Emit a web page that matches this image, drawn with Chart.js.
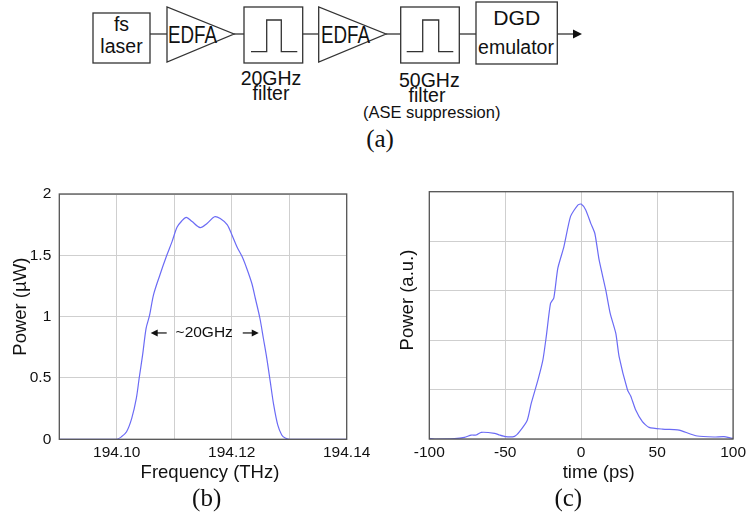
<!DOCTYPE html>
<html>
<head>
<meta charset="utf-8">
<script src="https://cdn.jsdelivr.net/npm/chart.js@4.4.1/dist/chart.umd.min.js"></script>
<style>
  html, body { margin: 0; padding: 0; background: #fff; }
  #wrap { position: relative; width: 750px; height: 519px; overflow: hidden; }
  #wrap svg, #wrap canvas { position: absolute; left: 0; top: 0; }
  svg text { font-family: "Liberation Sans", Arial, sans-serif; fill: #111; }
</style>
</head>
<body>
<div id="wrap">
  <!-- (a) experimental setup -->
  <svg width="750" height="170" viewBox="0 0 750 170">
    <g stroke="#333" stroke-width="1.3" fill="none">
      <rect x="93" y="13" width="57" height="50"/>
      <line x1="150" y1="34" x2="167" y2="34"/>
      <polygon points="167,7 167,62 234,34"/>
      <line x1="234" y1="34" x2="244" y2="34"/>
      <rect x="244" y="7" width="58.7" height="56"/>
      <polyline points="251,51.7 266.7,51.7 266.7,20 281.3,20 281.3,51.7 297.3,51.7"/>
      <line x1="302.7" y1="34" x2="318.7" y2="34"/>
      <polygon points="318.7,7 318.7,62 386,34"/>
      <line x1="386" y1="34" x2="400.7" y2="34"/>
      <rect x="400.7" y="7" width="58.6" height="56"/>
      <polyline points="406.7,51.7 422.7,51.7 422.7,20 438.7,20 438.7,51.7 453.3,51.7"/>
      <line x1="459.3" y1="34" x2="476" y2="34"/>
      <rect x="476" y="2" width="81.3" height="62"/>
      <line x1="557.3" y1="34" x2="574" y2="34"/>
    </g>
    <polygon points="573,29.5 582,34 573,38.5" fill="#111"/>
    <g text-anchor="middle">
      <text x="121.5" y="31" font-size="19.5">fs</text>
      <text x="121.5" y="53" font-size="19.5">laser</text>
      <text x="192.5" y="42.5" font-size="23" textLength="49" lengthAdjust="spacingAndGlyphs">EDFA</text>
      <text x="271" y="85" font-size="19.5">20GHz</text>
      <text x="271" y="99.5" font-size="19.5">filter</text>
      <text x="345.5" y="42.5" font-size="23" textLength="49" lengthAdjust="spacingAndGlyphs">EDFA</text>
      <text x="429.3" y="87.3" font-size="19.5">50GHz</text>
      <text x="427" y="101.7" font-size="19.5">filter</text>
      <text x="431.7" y="118.3" font-size="16.5">(ASE suppression)</text>
      <text x="516.7" y="25" font-size="20" textLength="47" lengthAdjust="spacingAndGlyphs">DGD</text>
      <text x="516" y="54" font-size="19.5">emulator</text>
      <text x="380" y="146.5" font-size="25" style="font-family:'Liberation Serif','Times New Roman',serif">(a)</text>
    </g>
  </svg>
  <canvas id="specChart" width="750" height="519"></canvas>
  <canvas id="pulseChart" width="750" height="519"></canvas>
</div>
<script>
// (b) optical spectrum after the 20 GHz filter
const freqTHz = [194.09, 194.1000, 194.1008, 194.1017, 194.1026, 194.1034, 194.1039, 194.1045, 194.1051,
  194.1057, 194.1064, 194.1075, 194.1087, 194.1096, 194.1105, 194.1113, 194.1121, 194.1131, 194.1145,
  194.1157, 194.1170, 194.1180, 194.1192, 194.1200, 194.1209, 194.1218, 194.1226, 194.1235, 194.1241,
  194.1249, 194.1255, 194.1261, 194.1267, 194.1273, 194.1280, 194.1287, 194.1293, 194.1300, 194.14];
const powerUW = [0, 0, 0.02, 0.062, 0.171, 0.334, 0.5, 0.69, 0.905,
  1.01, 1.18, 1.34, 1.50, 1.61, 1.73, 1.78, 1.81, 1.775, 1.726,
  1.76, 1.815, 1.80, 1.75, 1.67, 1.57, 1.49, 1.395, 1.27, 1.15,
  0.987, 0.824, 0.66, 0.47, 0.28, 0.117, 0.035, 0.01, 0, 0];
const freqTickLabels = ['194.10', '194.12', '194.14'];
const powerTickLabels = ['0', '0.5', '1', '1.5', '2'];

// (c) pulse intensity versus time
const timePs = [-100, -96.5, -83.4, -76.8, -72.4, -69.1, -65.8, -57, -53.8, -49.8, -43.9, -40.6,
  -35.5, -32.9, -28.5, -25.2, -23, -20.2, -18, -15.4, -11.4, -7, -2.2, 0, 3.0, 6.3, 9, 11.8,
  16.2, 19.1, 22.8, 25, 30.5, 32.6, 35.9, 40.3, 44.7, 53.5, 61.2, 64.5, 76.5, 87.5, 94, 99.5, 100];
const powerAU = [0.014, 0, 0.007, 0.034, 0.08, 0.08, 0.135, 0.115, 0.08, 0.047, 0.054, 0.15,
  0.38, 0.72, 1.19, 1.6, 2.07, 2.74, 2.855, 3.45, 3.885, 4.5, 4.73, 4.75, 4.63, 4.36, 4.155, 3.62,
  3.01, 2.54, 2.135, 1.66, 0.99, 0.87, 0.585, 0.35, 0.235, 0.2, 0.19, 0.18, 0.06, 0.04, 0.047, 0.014, 0.02];
const timeTicks = [-100, -50, 0, 50, 100];

// annotation for the filter bandwidth
const bwLabel = '~20GHz';
const bwLeftTip = 194.1059, bwRightTip = 194.1247, bwLevel = 0.867;

const LINE = '#6b6bf5';
const GRID = '#cfcfcf';
const FRAME = '#555';
const SANS = '"Liberation Sans", Arial, sans-serif';
const SERIF = '"Liberation Serif", "Times New Roman", serif';

Chart.defaults.font.family = SANS;
Chart.defaults.color = '#111';

function toPoints(xs, ys) { return xs.map((x, i) => ({ x: x, y: ys[i] })); }

// full box around the plotting area plus free text
function framePlugin(texts, extra) {
  return {
    id: 'frameText',
    afterDraw(chart) {
      const { ctx, chartArea: a } = chart;
      ctx.save();
      ctx.strokeStyle = FRAME;
      ctx.lineWidth = 1.3;
      ctx.strokeRect(a.left, a.top, a.right - a.left, a.bottom - a.top);
      ctx.fillStyle = '#111';
      texts.forEach(t => {
        ctx.save();
        ctx.font = t.font;
        ctx.textAlign = 'center';
        ctx.textBaseline = t.baseline || 'middle';
        ctx.translate(t.x, t.y);
        if (t.rot) ctx.rotate(t.rot);
        ctx.fillText(t.text, 0, 0);
        ctx.restore();
      });
      if (extra) extra(chart);
      ctx.restore();
    }
  };
}

function arrow(ctx, x0, x1, y) {
  const dir = Math.sign(x1 - x0);
  ctx.beginPath();
  ctx.moveTo(x0, y);
  ctx.lineTo(x1 - dir * 6, y);
  ctx.stroke();
  ctx.beginPath();
  ctx.moveTo(x1, y);
  ctx.lineTo(x1 - dir * 7, y - 3.5);
  ctx.lineTo(x1 - dir * 7, y + 3.5);
  ctx.closePath();
  ctx.fill();
}

new Chart(document.getElementById('specChart'), {
  type: 'line',
  data: { datasets: [{ data: toPoints(freqTHz, powerUW), borderColor: LINE, borderWidth: 1.2,
    pointRadius: 0, tension: 0.3, fill: false }] },
  options: {
    responsive: false, animation: false, devicePixelRatio: 1,
    layout: { padding: { left: 0, top: 194, right: 403.3, bottom: 0 } },
    plugins: { legend: { display: false }, tooltip: { enabled: false } },
    scales: {
      x: {
        type: 'linear', min: 194.09, max: 194.14,
        afterFit(s) { s.height = 79.7; },
        grid: { color: GRID, lineWidth: 1, drawTicks: false },
        border: { display: false },
        ticks: {
          stepSize: 0.01, padding: 4, maxRotation: 0, autoSkip: false,
          font: { size: 15.5 }, color: '#111',
          callback(v) {
            const s = (Math.round(v * 100) / 100).toFixed(2);
            return freqTickLabels.includes(s) ? s : '';
          }
        }
      },
      y: {
        min: 0, max: 2,
        afterFit(s) { s.width = 59.3; },
        grid: { color: GRID, lineWidth: 1, drawTicks: false },
        border: { display: false },
        ticks: {
          stepSize: 0.5, padding: 8, font: { size: 15.5 }, color: '#111',
          callback(v) { return powerTickLabels[Math.round(v * 2)]; }
        }
      }
    }
  },
  plugins: [framePlugin([
    { text: 'Power (\u00b5W)', x: 20.7, y: 306.7, rot: -Math.PI / 2, font: '18.5px ' + SANS },
    { text: 'Frequency (THz)', x: 210, y: 473.3, font: '18.5px ' + SANS },
    { text: '(b)', x: 206.7, y: 505.5, baseline: 'alphabetic', font: '25px ' + SERIF }
  ], chart => {
    const { ctx, scales: { x, y } } = chart;
    const yy = y.getPixelForValue(bwLevel);
    const xl = x.getPixelForValue(bwLeftTip), xr = x.getPixelForValue(bwRightTip);
    ctx.fillStyle = '#111';
    ctx.strokeStyle = '#111';
    ctx.lineWidth = 1.2;
    arrow(ctx, xl + 16, xl, yy);
    arrow(ctx, xr - 16, xr, yy);
    ctx.font = '15.5px ' + SANS;
    ctx.textAlign = 'center';
    ctx.textBaseline = 'middle';
    ctx.fillText(bwLabel, (xl + xr) / 2 - 0.5, yy);
  })]
});

new Chart(document.getElementById('pulseChart'), {
  type: 'line',
  data: { datasets: [{ data: toPoints(timePs, powerAU), borderColor: LINE, borderWidth: 1.2,
    pointRadius: 0, tension: 0.2, fill: false }] },
  options: {
    responsive: false, animation: false, devicePixelRatio: 1,
    layout: { padding: { left: 419.3, top: 191.7, right: 16.3, bottom: 0 } },
    plugins: { legend: { display: false }, tooltip: { enabled: false } },
    scales: {
      x: {
        type: 'linear', min: -100, max: 100,
        afterFit(s) { s.height = 80; },
        afterBuildTicks(s) { s.ticks = timeTicks.map(v => ({ value: v })); },
        grid: { color: GRID, lineWidth: 1, drawTicks: false },
        border: { display: false },
        ticks: { padding: 4, maxRotation: 0, autoSkip: false, font: { size: 15.5 }, color: '#111' }
      },
      y: {
        min: 0, max: 5,
        afterFit(s) { s.width = 10; },
        grid: { color: GRID, lineWidth: 1, drawTicks: false },
        border: { display: false },
        ticks: { stepSize: 1, display: false }
      }
    }
  },
  plugins: [framePlugin([
    { text: 'Power (a.u.)', x: 408.3, y: 300, rot: -Math.PI / 2, font: '18.5px ' + SANS },
    { text: 'time (ps)', x: 598.7, y: 473.3, font: '18.5px ' + SANS },
    { text: '(c)', x: 568.3, y: 505.5, baseline: 'alphabetic', font: '25px ' + SERIF }
  ])]
});
</script>
</body>
</html>
